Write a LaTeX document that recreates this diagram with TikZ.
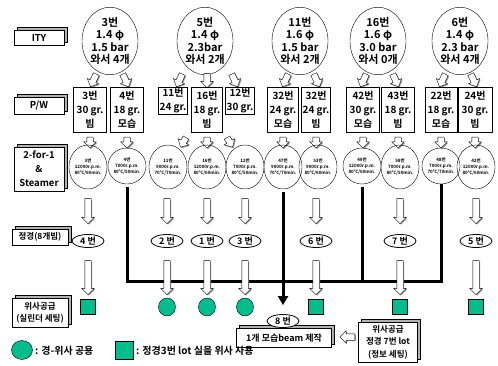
\documentclass[tikz,border=0pt]{standalone}
\usepackage{fontspec}
\setmainfont{Noto Sans CJK KR}[BoldFont={Noto Sans CJK KR Bold}]
\usetikzlibrary{arrows.meta,shapes.geometric,shapes.arrows,shadows,positioning,calc}
\definecolor{tealgreen}{RGB}{0,190,140}

\begin{document}
\begin{tikzpicture}[x=1pt, y=-1pt,
    box3d/.style={draw, fill=white, align=center, inner sep=1pt, font=\bfseries\fontsize{9.5}{14}\selectfont,
        copy shadow={shadow xshift=3pt, shadow yshift=3pt, fill=black!30, draw=black}},
    ity/.style={draw, ellipse, minimum width=56pt, minimum height=62pt, inner sep=0pt, align=center, font=\bfseries\fontsize{11}{12.5}\selectfont},
    pw/.style={draw, thick, fill=white, anchor=north, align=center, inner sep=1pt, minimum height=45pt, font=\bfseries\fontsize{10}{14}\selectfont},
    pwlow/.style={pw, minimum height=21pt},
    tf/.style={draw, ellipse, minimum width=38pt, minimum height=44pt, inner sep=0pt, align=center, font=\bfseries\fontsize{4.5}{6}\selectfont},
    tfs/.style={tf, minimum width=30pt, minimum height=36pt},
    beam/.style={draw, thick, ellipse, fill=white, minimum width=32pt, minimum height=13pt, inner sep=0pt, font=\bfseries\fontsize{9}{10}\selectfont},
    harr/.style={single arrow, draw, fill=white, inner xsep=0pt, inner ysep=3pt, single arrow head extend=3pt,
        drop shadow={shadow xshift=1pt, shadow yshift=-1pt, fill=black!40, opacity=1}},
    wsq/.style={draw, fill=tealgreen, minimum size=15pt, inner sep=0pt},
    wci/.style={draw, fill=tealgreen, ellipse, minimum width=17pt, minimum height=18pt, inner sep=0pt},
    bus/.style={line width=3pt},
    lgtext/.style={anchor=west, inner sep=0pt, font=\bfseries\fontsize{10}{12}\selectfont}
]
\useasboundingbox (0,0) rectangle (498,366);

\node[box3d, minimum width=50pt, minimum height=15pt] (ity) at (39,38) {ITY};
\node[box3d, minimum width=50pt, minimum height=17pt] (pwl) at (39,106) {P/W};
\node[box3d, minimum width=50pt, minimum height=44pt] (tfl) at (39,169) {2-for-1\\\&\\Steamer};
\node[box3d, minimum width=56pt, minimum height=16pt, inner xsep=0pt, font=\bfseries\fontsize{8.5}{10}\selectfont] (jgl) at (40,237) {정경(8개빔)};
\node[box3d, minimum width=56pt, minimum height=29pt, font=\bfseries\fontsize{8.5}{12}\selectfont] (wsl) at (40,313) {위사공급\\(실린더 세팅)};

\node[ity] (c3) at (110,41) {3번\\1.4 φ\\1.5 bar\\와서 4개};
\node[ity] (c5) at (205,41) {5번\\1.4 φ\\2.3bar\\와서 2개};
\node[ity] (c11) at (300,41) {11번\\1.6 φ\\1.5 bar\\와서 2개};
\node[ity] (c16) at (378,41) {16번\\1.6 φ\\3.0 bar\\와서 0개};
\node[ity] (c6) at (460,41) {6번\\1.4 φ\\2.3 bar\\와서 4개};

\node[harr, minimum height=14pt, rotate=-115] (t1) at (94,79) {};
\node[harr, minimum height=14pt, rotate=-65] (t2) at (125,79) {};
\node[harr, minimum height=14pt, rotate=-115] (t3) at (180,79) {};
\node[harr, minimum height=14pt, rotate=-90] (t4) at (207,79) {};
\node[harr, minimum height=14pt, rotate=-65] (t5) at (234,79) {};
\node[harr, minimum height=14pt, rotate=-115] (t6) at (286,79) {};
\node[harr, minimum height=14pt, rotate=-65] (t7) at (316,79) {};
\node[harr, minimum height=14pt, rotate=-115] (t8) at (364,79) {};
\node[harr, minimum height=14pt, rotate=-65] (t9) at (395,79) {};
\node[harr, minimum height=14pt, rotate=-115] (t10) at (443,79) {};
\node[harr, minimum height=14pt, rotate=-65] (t11) at (473,79) {};

\node[pw, minimum width=33pt] (pw3) at (90,87) {3번\\30 gr.\\빔};
\node[pw, minimum width=33pt] (pw4) at (127,87) {4번\\18 gr.\\모습};
\node[pwlow, minimum width=23pt] (pw11) at (173,87) {11번\\24 gr.};
\node[pw, minimum width=31pt] (pw16) at (207,87) {16번\\18 gr.\\빔};
\node[pwlow, minimum width=24pt] (pw12) at (240,87) {12번\\30 gr.};
\node[pw, minimum width=31pt] (pw32a) at (283,87) {32번\\24 gr.\\모습};
\node[pw, minimum width=27pt] (pw32b) at (316,87) {32번\\24 gr.\\빔};
\node[pw, minimum width=33pt] (pw42) at (363,87) {42번\\30 gr.\\모습};
\node[pw, minimum width=33pt] (pw43) at (398,87) {43번\\18 gr.\\빔};
\node[pw, minimum width=32pt] (pw22) at (441,87) {22번\\18 gr.\\모습};
\node[pw, minimum width=34pt] (pw24) at (475,87) {24번\\30 gr.\\빔};

\foreach \x in {90,127,283,316,363,398,441,475}
    \node[harr, minimum height=11pt, rotate=-90] (p\x) at (\x,141) {};
\node[harr, minimum height=11pt, rotate=-120] (p183) at (184,141) {};
\node[harr, minimum height=11pt, rotate=-90] (p207) at (207,141) {};
\node[harr, minimum height=11pt, rotate=-60] (p229) at (229,141) {};

\node[tf] (tf3) at (88,167) {3번\\12000r.p.m.\\80℃/60min.};
\node[tfs] (tf4) at (127,166) {4번\\7000r.p.m.\\80℃/50min.};
\node[tf] (tf11) at (168,167) {11번\\9000r.p.m.\\70℃/70min.};
\node[tf] (tf16) at (207,167) {16번\\12000r.p.m.\\80℃/60min.};
\node[tf] (tf12) at (245,167) {12번\\7000r.p.m.\\80℃/50min.};
\node[tf] (tf47) at (283,167) {47번\\9000r.p.m.\\70℃/70min.};
\node[tf] (tf53) at (318,167) {53번\\9000r.p.m.\\80℃/60min.};
\node[tfs] (tf49) at (362,166) {49번\\12000r.p.m.\\80℃/60min.};
\node[tf] (tf58) at (400,167) {58번\\7000r.p.m.\\80℃/50min.};
\node[tfs] (tf48) at (441,166) {48번\\7000r.p.m.\\70℃/70min.};
\node[tf] (tf42) at (476,167) {42번\\12000r.p.m.\\80℃/60min.};

\foreach \x in {88,167,207,245,316,400,476}
    \node[harr, minimum height=25pt, rotate=-90] (m\x) at (\x,209.5) {};

\node[beam] (o4) at (88,241) {4 번};
\node[beam] (o2) at (167,241) {2 번};
\node[beam] (o1) at (207,241) {1 번};
\node[beam] (o3) at (245,241) {3 번};
\node[beam] (o6) at (316,241) {6 번};
\node[beam] (o7) at (400,241) {7 번};
\node[beam] (o5) at (476,241) {5 번};

\node[box3d, minimum width=95pt, minimum height=19pt, font=\bfseries\fontsize{9}{11}\selectfont] (mk) at (284,338) {1개 모습beam 제작};
\node[beam] (b8) at (283,321) {8 번};
\node[box3d, minimum width=59pt, minimum height=40pt, font=\bfseries\fontsize{8.5}{12.5}\selectfont] (ws7) at (388,342) {위사공급\\정경 7번 lot\\(정보 세팅)};
\node[harr, minimum height=15pt, rotate=180] (wl) at (349,337) {};

\coordinate (busL) at (127,281);
\coordinate (busR) at (441,281);
\draw[bus, shorten <=3pt] (tf4) -- (busL) -- (busR) -- (tf48);
\draw[bus, shorten <=3pt] (tf49) -- (tf49 |- busL);
\draw[bus, shorten <=3pt, shorten >=9pt, -{Triangle[length=9pt, width=10pt]}] (tf47) -- (b8);

\foreach \x in {88,167,207,245,316,400,476}
    \node[harr, minimum height=34pt, rotate=-90] (b\x) at (\x,276) {};

\node[wsq] (s4) at (88,307) {};
\node[wci] (s2) at (167,307) {};
\node[wci] (s1) at (207,307) {};
\node[wci] (s3) at (245,307) {};
\node[wsq] (s6) at (316,307) {};
\node[wsq] (s7) at (400,307) {};
\node[wsq] (s5) at (476,307) {};

\node[wci, minimum width=21pt, minimum height=19pt] (lg1) at (22,350) {};
\node[lgtext] (lt1) at (35,351) {: 경-위사 공용};
\node[wsq, minimum size=18pt] (lg2) at (124,350) {};
\node[lgtext] (lt2) at (136,351) {: 정경3번 lot 실을 위사 사용};
\end{tikzpicture}
\end{document}
